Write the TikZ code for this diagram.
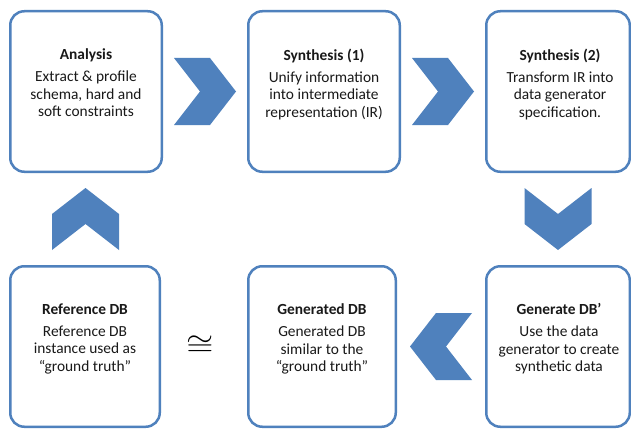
\documentclass[tikz,border=0pt]{standalone}
\usepackage{fontspec}
\usepackage{graphicx}
\setmainfont{Carlito}
\usetikzlibrary{calc}
\definecolor{boxblue}{HTML}{4F81BD}
\definecolor{chevblue}{HTML}{4F81BD}
\tikzset{
  box/.style={draw=boxblue, line width=2.5pt, rounded corners=14pt, fill=white, inner sep=0pt, minimum height=160.5pt},
  txt/.style={align=center, inner sep=0pt, font=\fontsize{15.4}{17.5}\selectfont, text=black!90},
  chev/.pic={\fill[chevblue] (-31,-33.5) -- (5,-33.5) -- (31,0) -- (5,33.5) -- (-31,33.5) -- (-5,0) -- cycle;}
}
\begin{document}
\begin{tikzpicture}[x=1pt,y=-1pt]
\clip (0,0) rectangle (631,428);
\fill[white] (0,0) rectangle (631,428);
% boxes
\node[box, minimum width=151.5pt] (a) at (86,91.5) {};
\node[box, minimum width=151.5pt] (b) at (324,91.5) {};
\node[box, minimum width=143.5pt] (c) at (558,91.5) {};
\node[box, minimum width=149.5pt] (d) at (85,346.5) {};
\node[box, minimum width=147.5pt] (e) at (322,346.5) {};
\node[box, minimum width=143.5pt] (f) at (558,346.5) {};
% texts
\node[txt, anchor=north] (ta) at (86,48.5) {\textbf{Analysis}\\[4.5pt]Extract \& profile\\schema, hard and\\soft constraints};
\node[txt, anchor=north] (tb) at (324,48.5) {\textbf{Synthesis (1)}\\[4.5pt]Unify information\\into intermediate\\representation (IR)};
\node[txt, anchor=north] (tc) at (560,48.5) {\textbf{Synthesis (2)}\\[4.5pt]Transform IR into\\data generator\\specification.};
\node[txt, anchor=north] (td) at (85,303.5) {\textbf{Reference DB}\\[4.5pt]Reference DB\\instance used as\\“ground truth”};
\node[txt, anchor=north] (te) at (322,303.5) {\textbf{Generated DB}\\[4.5pt]Generated DB\\similar to the\\“ground truth”};
\node[txt, anchor=north] (tf) at (559,303.5) {\textbf{Generate DB’}\\[4.5pt]Use the data\\generator to create\\synthetic data};
% congruence
\node[inner sep=0pt] (cong) at (200,346) {\scalebox{3.5}[2.9]{$\cong$}};
% chevrons
\path ($(a.east)!0.5!(b.west)$) pic {chev};
\path ($(b.east)!0.5!(c.west)$) pic {chev};
\path ($(c.south)!0.5!(f.north)$) pic[rotate=-90] {chev};
\path ($(f.west)!0.5!(e.east)$) pic[rotate=180] {chev};
\path ($(d.north)!0.5!(a.south)$) pic[rotate=90] {chev};
\end{tikzpicture}
\end{document}
